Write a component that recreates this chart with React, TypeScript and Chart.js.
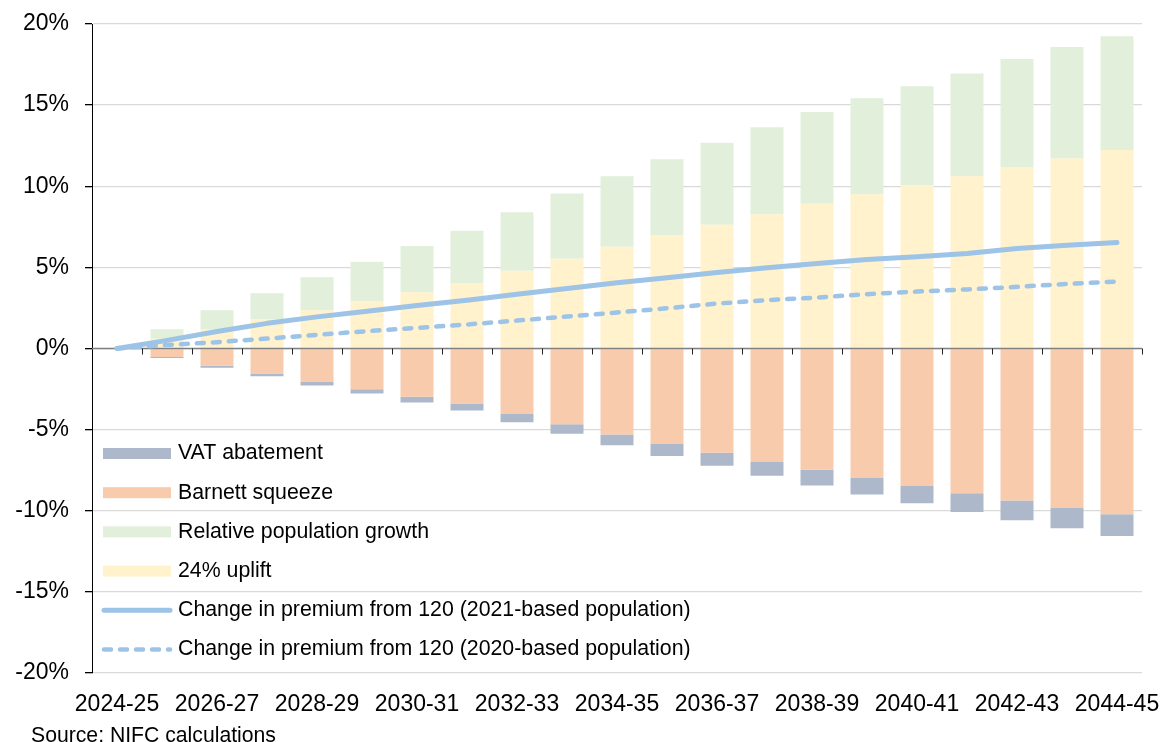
import React, { useEffect, useRef } from "react";
import { Chart, registerables } from "chart.js";

Chart.register(...registerables);

const categories = [
  "2024-25", "2025-26", "2026-27", "2027-28", "2028-29", "2029-30", "2030-31",
  "2031-32", "2032-33", "2033-34", "2034-35", "2035-36", "2036-37", "2037-38",
  "2038-39", "2039-40", "2040-41", "2041-42", "2042-43", "2043-44", "2044-45",
];

const uplift24 = [
  0, 0.6, 1.17, 1.8, 2.36, 2.92, 3.47, 4.01, 4.79, 5.53, 6.27,
  6.97, 7.62, 8.28, 8.92, 9.51, 10.07, 10.62, 11.18, 11.71, 12.23,
];

const popGrowth = [
  0, 0.59, 1.19, 1.61, 2.03, 2.42, 2.84, 3.24, 3.61, 4.02, 4.35,
  4.7, 5.06, 5.36, 5.65, 5.92, 6.1, 6.33, 6.66, 6.87, 7.02,
];

const barnett = [
  0, -0.52, -1.07, -1.54, -2.04, -2.51, -2.98, -3.39, -4.03, -4.67, -5.3,
  -5.88, -6.43, -6.99, -7.48, -7.98, -8.47, -8.92, -9.37, -9.83, -10.22,
];

const vatAbatement = [
  0, -0.07, -0.12, -0.17, -0.24, -0.27, -0.35, -0.43, -0.51, -0.59, -0.66,
  -0.74, -0.8, -0.86, -0.97, -1.02, -1.07, -1.15, -1.22, -1.25, -1.33,
];

const premium2021 = [
  0, 0.5, 1.05, 1.55, 1.95, 2.3, 2.65, 2.98, 3.35, 3.7, 4.05,
  4.36, 4.68, 4.97, 5.24, 5.49, 5.65, 5.86, 6.17, 6.37, 6.54,
];

const premium2020 = [
  0, 0.22, 0.39, 0.61, 0.84, 1.07, 1.27, 1.48, 1.72, 1.97, 2.22,
  2.48, 2.77, 2.98, 3.14, 3.35, 3.51, 3.64, 3.8, 3.98, 4.13,
];

const yTicks = [-20, -15, -10, -5, 0, 5, 10, 15, 20];

const FONT = "'Liberation Sans', Arial, sans-serif";
const C_VAT = "#adb9ca";
const C_BARNETT = "#f8cbad";
const C_POP = "#e2efda";
const C_UPLIFT = "#fff2cc";
const C_LINE = "#9dc3e6";

const zeroAxisPlugin = {
  id: "zeroAxis",
  afterDatasetDraw(chart: any, args: any) {
    if (args.meta.type !== "bar" || args.index !== 0) return;
    const { ctx, chartArea, scales } = chart;
    const y0 = scales.y.getPixelForValue(0);
    ctx.save();
    ctx.strokeStyle = "#808080";
    ctx.lineWidth = 1.3;
    ctx.beginPath();
    ctx.moveTo(chartArea.left, y0);
    ctx.lineTo(chartArea.right, y0);
    ctx.stroke();
    ctx.strokeStyle = "#222";
    ctx.lineWidth = 1;
    const xs = scales.x;
    const n = categories.length;
    const step = xs.getPixelForValue(1) - xs.getPixelForValue(0);
    for (let i = 0; i < n; i++) {
      const px = Math.round(xs.getPixelForValue(i) + step / 2) + 0.5;
      ctx.beginPath();
      ctx.moveTo(px, y0);
      ctx.lineTo(px, y0 + 6);
      ctx.stroke();
    }
    ctx.restore();
  },
};

const legendPlugin = {
  id: "customLegend",
  afterDraw(chart: any) {
    const { ctx } = chart;
    const ds = chart.data.datasets;
    const order = [3, 2, 1, 0, 4, 5];
    const x0 = 103;
    const w = 68;
    const tx = 178;
    let y = 453.5;
    ctx.save();
    ctx.font = `21.3px ${FONT}`;
    ctx.textBaseline = "middle";
    ctx.fillStyle = "#000";
    for (const idx of order) {
      const d = ds[idx];
      if (d.type === "line") {
        ctx.strokeStyle = d.borderColor;
        ctx.lineWidth = d.borderWidth;
        ctx.lineCap = "round";
        ctx.setLineDash(d.borderDash || []);
        ctx.beginPath();
        ctx.moveTo(x0 + 1, y);
        ctx.lineTo(x0 + w - 1, y);
        ctx.stroke();
        ctx.setLineDash([]);
      } else {
        ctx.fillStyle = d.backgroundColor;
        ctx.fillRect(x0, y - 5.5, w, 11);
      }
      ctx.fillStyle = "#000";
      ctx.fillText(d.label, tx, y);
      y += 39.2;
    }
    ctx.font = `21.2px ${FONT}`;
    ctx.textBaseline = "alphabetic";
    ctx.fillText("Source: NIFC calculations", 31, 742);
    ctx.restore();
  },
};

function zeroPad(s: any) {
  s.paddingLeft = 0;
  s.paddingRight = 0;
  s.paddingTop = 0;
  s.paddingBottom = 0;
}

export default function App() {
  const ref = useRef<HTMLCanvasElement>(null);

  useEffect(() => {
    if (!ref.current) return;
    const barCommon = {
      type: "bar" as const,
      stack: "bars",
      barPercentage: 0.66,
      categoryPercentage: 1,
      borderWidth: 0,
      order: 1,
    };
    const chart = new Chart(ref.current, {
      type: "bar",
      data: {
        labels: categories,
        datasets: [
          { ...barCommon, label: "24% uplift", data: uplift24, backgroundColor: C_UPLIFT },
          { ...barCommon, label: "Relative population growth", data: popGrowth, backgroundColor: C_POP },
          { ...barCommon, label: "Barnett squeeze", data: barnett, backgroundColor: C_BARNETT },
          { ...barCommon, label: "VAT abatement", data: vatAbatement, backgroundColor: C_VAT },
          {
            type: "line" as const,
            label: "Change in premium from 120 (2021-based population)",
            data: premium2021,
            stack: "l1",
            borderColor: C_LINE,
            backgroundColor: C_LINE,
            borderWidth: 5,
            pointRadius: 0,
            tension: 0,
            borderCapStyle: "round",
            borderJoinStyle: "round",
            order: 0,
          } as any,
          {
            type: "line" as const,
            label: "Change in premium from 120 (2020-based population)",
            data: premium2020,
            stack: "l2",
            borderColor: C_LINE,
            backgroundColor: C_LINE,
            borderWidth: 4.5,
            borderDash: [7, 9],
            pointRadius: 0,
            tension: 0,
            borderCapStyle: "round",
            borderJoinStyle: "round",
            order: 0,
          } as any,
        ],
      },
      options: {
        animation: false,
        responsive: false,
        devicePixelRatio: 1,
        layout: { padding: { left: 0, right: 21, top: 24, bottom: 0 } },
        plugins: {
          legend: { display: false },
          tooltip: { enabled: false },
        },
        scales: {
          x: {
            stacked: true,
            offset: true,
            grid: { display: false },
            border: { display: false },
            ticks: {
              autoSkip: false,
              maxRotation: 0,
              minRotation: 0,
              padding: 10,
              color: "#000",
              font: { family: FONT, size: 23 },
              callback: (_v: any, i: number) => (i % 2 === 0 ? categories[i] : ""),
            },
            afterFit: (s: any) => {
              s.height = 69;
              zeroPad(s);
            },
          },
          y: {
            stacked: true,
            min: -20,
            max: 20,
            afterBuildTicks: (s: any) => {
              s.ticks = yTicks.map((v) => ({ value: v }));
            },
            grid: {
              color: "#d9d9d9",
              lineWidth: 1.3,
              tickLength: 7,
              tickColor: "#000",
            },
            border: { display: true, color: "#000", width: 1 },
            ticks: {
              padding: 16,
              color: "#000",
              font: { family: FONT, size: 23 },
              callback: (v: any) => `${v}%`,
            },
            afterFit: (s: any) => {
              s.width = 92;
              zeroPad(s);
            },
          },
        },
      },
      plugins: [zeroAxisPlugin, legendPlugin],
    });
    return () => chart.destroy();
  }, []);

  return (
    <div style={{ position: "fixed", left: 0, top: 0, width: 1163, height: 742, background: "#fff" }}>
      <canvas ref={ref} width={1163} height={742} style={{ display: "block" }} />
    </div>
  );
}
